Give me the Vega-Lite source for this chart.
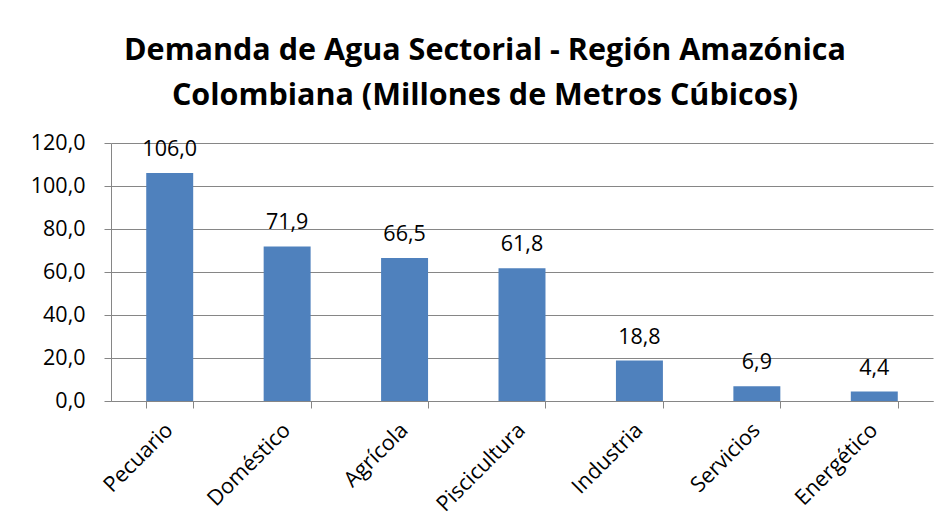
{
  "$schema": "https://vega.github.io/schema/vega-lite/v6.json",
  "autosize": "none",
  "width": 822,
  "height": 258,
  "padding": {"left": 111, "top": 143, "right": 15, "bottom": 128},
  "background": "white",
  "config": {
    "font": "Open Sans",
    "view": {"stroke": null},
    "locale": {"number": {"decimal": ",", "thousands": ".", "grouping": [3], "currency": ["$", ""]}}
  },
  "title": {
    "text": ["Demanda de Agua Sectorial - Región Amazónica", "Colombiana (Millones de Metros Cúbicos)"],
    "fontSize": 30.5,
    "fontWeight": "bold",
    "font": "Open Sans",
    "color": "black",
    "lineHeight": 45,
    "anchor": "middle",
    "dx": -37,
    "offset": 21
  },
  "data": {
    "values": [
      {"sector": "Pecuario", "valor": 106.0},
      {"sector": "Doméstico", "valor": 71.9},
      {"sector": "Agrícola", "valor": 66.5},
      {"sector": "Piscicultura", "valor": 61.8},
      {"sector": "Industria", "valor": 18.8},
      {"sector": "Servicios", "valor": 6.9},
      {"sector": "Energético", "valor": 4.4}
    ]
  },
  "encoding": {
    "x": {
      "field": "sector",
      "type": "nominal",
      "sort": null,
      "scale": {"paddingInner": 0.6, "paddingOuter": 0.3},
      "axis": {
        "title": null,
        "labelAngle": -45,
        "labelFontSize": 21.5,
        "labelColor": "black",
        "labelPadding": 11,
        "labelOffset": -8,
        "domainColor": "#868686",
        "tickColor": "#868686",
        "tickSize": 7,
        "tickBand": "extent",
        "grid": false
      }
    },
    "y": {
      "field": "valor",
      "type": "quantitative",
      "scale": {"domain": [0, 120]},
      "axis": {
        "title": null,
        "values": [0, 20, 40, 60, 80, 100, 120],
        "format": ".1f",
        "labelFontSize": 21.5,
        "labelColor": "black",
        "labelPadding": 19,
        "domainColor": "#868686",
        "tickColor": "#868686",
        "tickSize": 7,
        "gridColor": "#868686",
        "gridWidth": 1
      }
    }
  },
  "layer": [
    {"mark": {"type": "bar", "color": "#4F81BD"}},
    {
      "mark": {"type": "text", "fontSize": 21.5, "color": "black", "baseline": "alphabetic", "dy": -17},
      "encoding": {"text": {"field": "valor", "type": "quantitative", "format": ".1f"}}
    }
  ]
}
